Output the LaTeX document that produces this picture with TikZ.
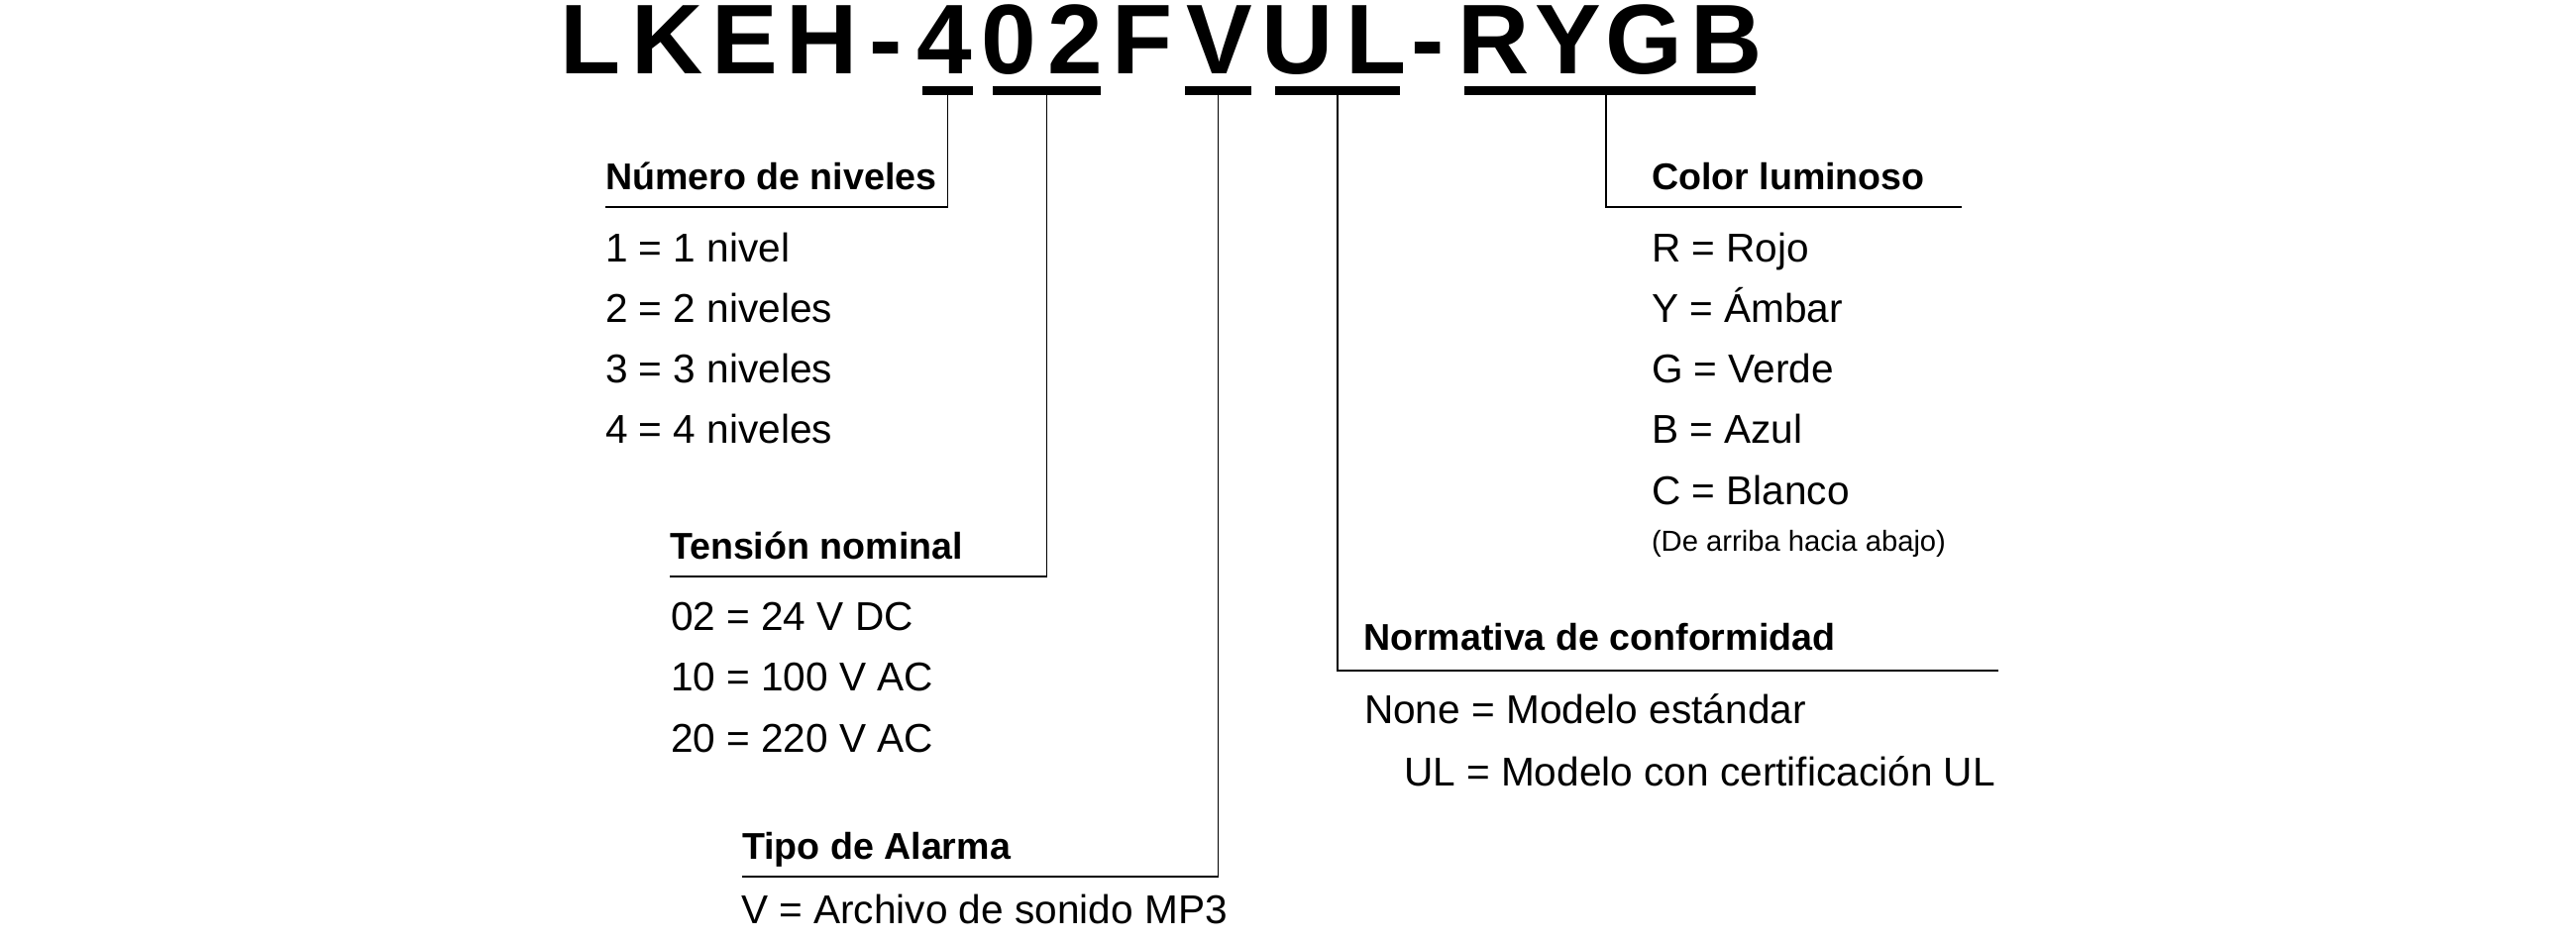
\documentclass[tikz,border=0pt]{standalone}
\usepackage{fontspec}
\setmainfont{Liberation Sans}
\begin{document}
\begin{tikzpicture}[x=0.25pt,y=-0.25pt,
  every node/.style={inner sep=0pt, outer sep=0pt},
  ttl/.style={anchor=base, font=\fontsize{25pt}{25pt}\selectfont\bfseries},
  codebar/.style={fill=black, minimum height=2.25pt},
  hdr/.style={anchor=base west, font=\fontsize{9.4pt}{11pt}\selectfont\bfseries},
  item/.style={anchor=base west, font=\fontsize{10.15pt}{12pt}\selectfont},
  note/.style={anchor=base west, font=\fontsize{7.3pt}{9pt}\selectfont},
  conn/.style={draw=black, line width=0.35pt}]
\useasboundingbox (0,0) rectangle (2600,950);

% title characters
\foreach \c/\x/\n in {L/596.5/t1,K/674/t2,E/751.5/t3,H/830/t4,-/894.5/t5,
  4/953/t6,0/1018.5/t7,2/1085.5/t8,F/1153.5/t9,V/1231/t10,U/1310/t11,
  L/1389.5/t12,-/1441.5/t13,R/1508/t14,Y/1583/t15,G/1659.5/t16,B/1742.5/t17}
  \node[ttl] (\n) at (\x,75) {\c};

% code bars
\node[codebar, minimum width=12.75pt] (b1) at (956.5,91.5) {};
\node[codebar, minimum width=27.25pt] (b2) at (1056.5,91.5) {};
\node[codebar, minimum width=16.75pt] (b3) at (1229.5,91.5) {};
\node[codebar, minimum width=31.5pt]  (b4) at (1350,91.5) {};
\node[codebar, minimum width=73.5pt]  (b5) at (1625,91.5) {};

% Número de niveles
\node[hdr] (h1) at (611,192) {Número de niveles};
\coordinate (u1) at (611,209);
\node[item] (i11) at (611,265) {1 = 1 nivel};
\node[item] (i12) at (611,326) {2 = 2 niveles};
\node[item] (i13) at (611,387) {3 = 3 niveles};
\node[item] (i14) at (611,448) {4 = 4 niveles};
\draw[conn] (b1.south) |- (u1);

% Tensión nominal
\node[hdr] (h2) at (676,565) {Tensión nominal};
\coordinate (u2) at (676,582);
\node[item] (i21) at (677,637) {02 = 24 V DC};
\node[item] (i22) at (677,698) {10 = 100 V AC};
\node[item] (i23) at (677,759) {20 = 220 V AC};
\draw[conn] (b2.south) |- (u2);

% Tipo de Alarma
\node[hdr] (h3) at (749,867) {Tipo de Alarma};
\coordinate (u3) at (749,885);
\node[item] (i31) at (748,932) {V = Archivo de sonido MP3};
\draw[conn] (b3.south) |- (u3);

% Normativa de conformidad
\node[hdr] (h4) at (1376,657) {Normativa de conformidad};
\coordinate (u4) at (2017,677);
\node[item] (i41) at (1377,730) {None = Modelo estándar};
\node[item] (i42) at (1417,793) {UL = Modelo con certificación UL};
\draw[conn] (b4.south) |- (u4);

% Color luminoso
\node[hdr] (h5) at (1667,192) {Color luminoso};
\coordinate (u5) at (1980,209);
\node[item] (i51) at (1667,265) {R = Rojo};
\node[item] (i52) at (1667,326) {Y = Ámbar};
\node[item] (i53) at (1667,387) {G = Verde};
\node[item] (i54) at (1667,448) {B = Azul};
\node[item] (i55) at (1667,510) {C = Blanco};
\node[note] (i56) at (1667,557) {(De arriba hacia abajo)};
\draw[conn] ([xshift=-1pt]b5.south) |- (u5);
\end{tikzpicture}
\end{document}
